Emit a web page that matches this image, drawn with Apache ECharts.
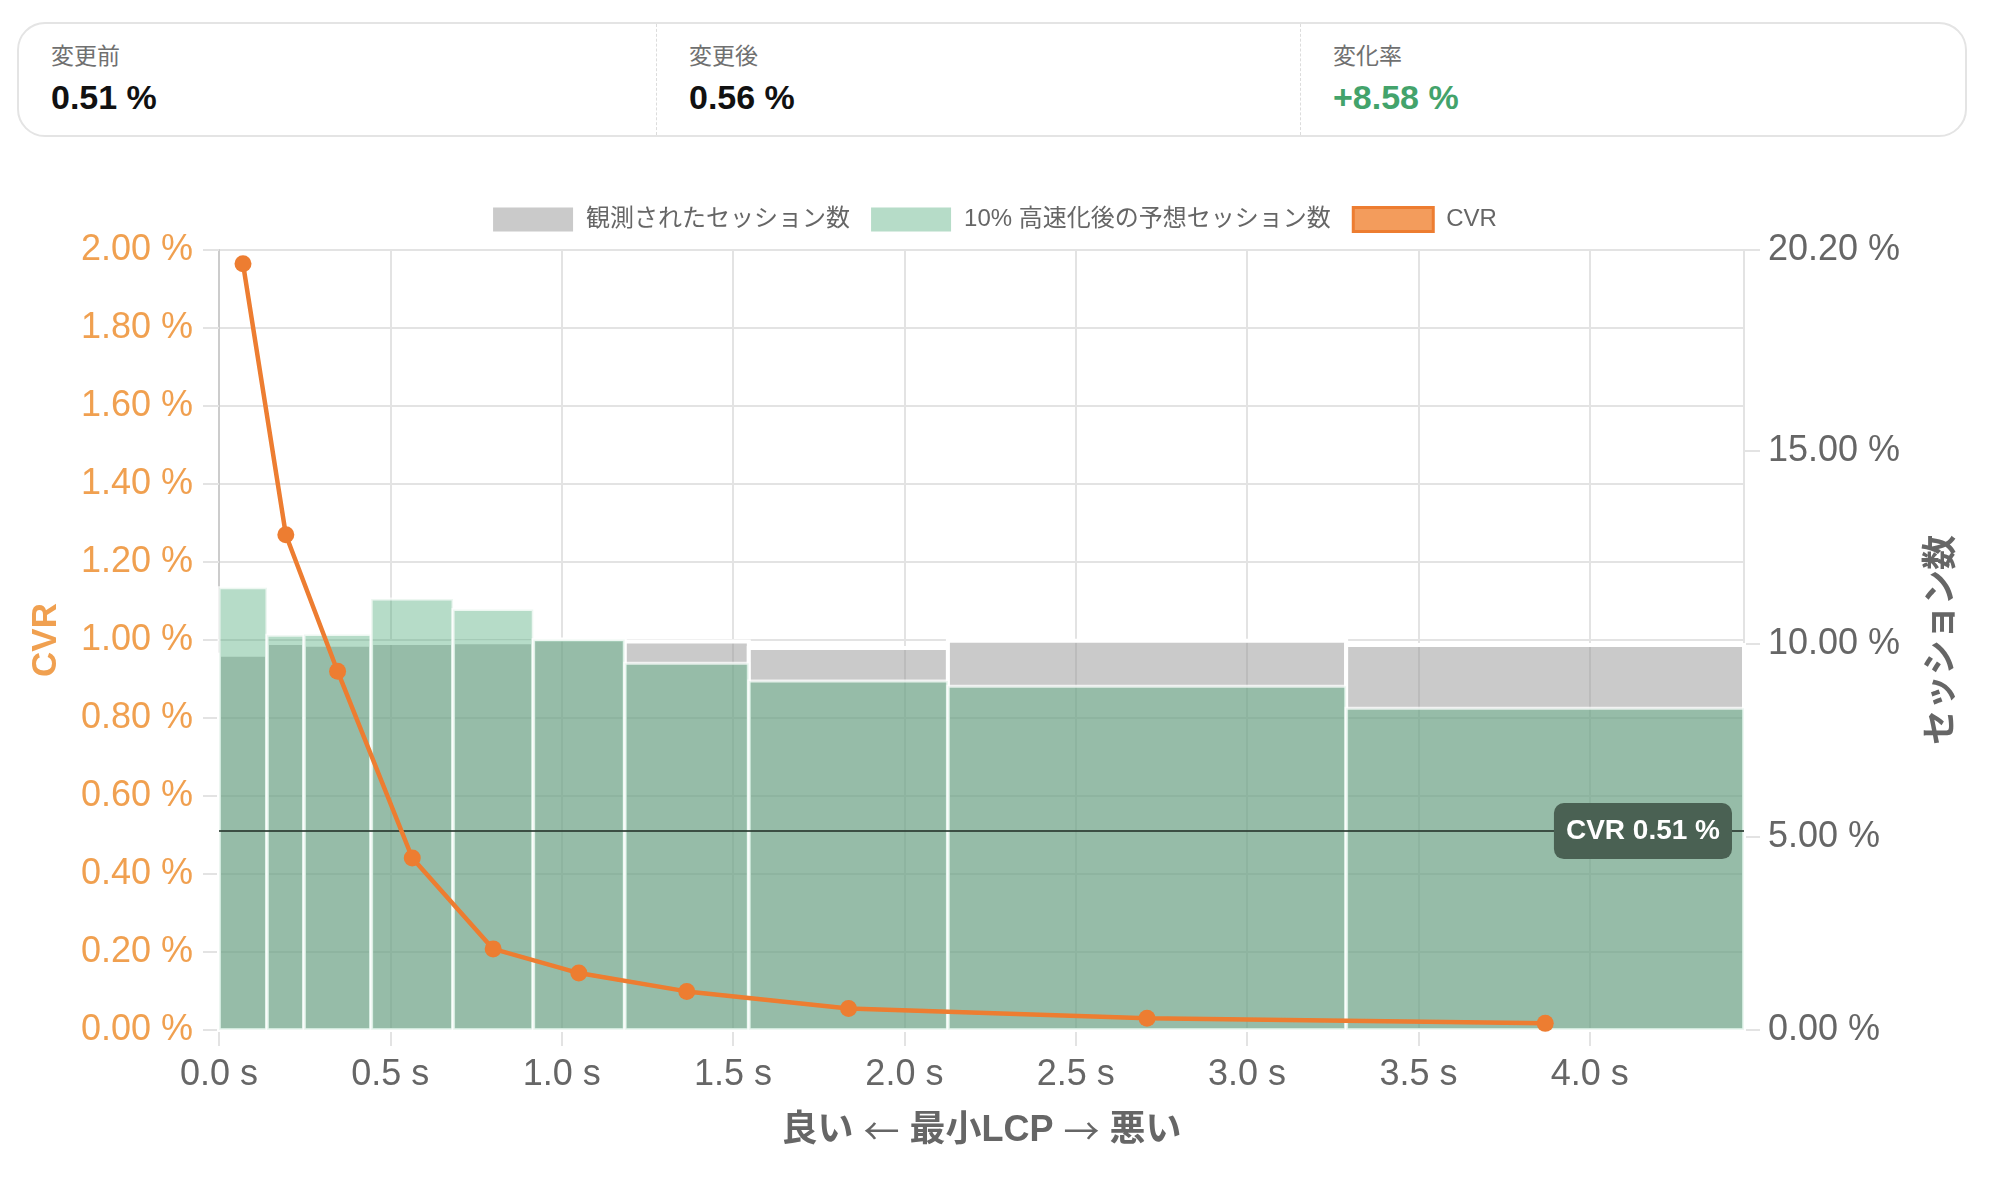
<!DOCTYPE html>
<html>
<head>
<meta charset="utf-8">
<script src="https://cdn.jsdelivr.net/npm/echarts@6/dist/echarts.min.js"></script>
<style>
  html, body { margin: 0; padding: 0; background: #fff; }
  body { width: 1990px; height: 1180px; position: relative; overflow: hidden;
         font-family: 'Liberation Sans', Arial, 'Noto Sans CJK JP', sans-serif; }
  #chart { position: absolute; left: 0; top: 0; width: 1990px; height: 1180px; }
  .card { position: absolute; left: 17px; top: 22px; width: 1950px; height: 115px;
          box-sizing: border-box; border: 2px solid #e4e4e4; border-radius: 28px; background: #fff; z-index: 2; }
  .div { position: absolute; top: 0; height: 111px; width: 0; border-left: 1.5px dashed #dcdcdc; }
  .lab { position: absolute; top: 21px; font-size: 23px; line-height: 1; color: #707070; white-space: nowrap; }
  .val { position: absolute; top: 56px; font-size: 34px; line-height: 1; font-weight: bold; color: #111; white-space: nowrap; }
</style>
</head>
<body>
<div id="chart"></div>
<div class="card" id="card"></div>
<script>
// ---- data ----
const summaryLabels = ['変更前', '変更後', '変化率'];
const summaryValues = ['0.51 %', '0.56 %', '+8.58 %'];

const binEdges = [0, 0.14, 0.248, 0.444, 0.683, 0.917, 1.184, 1.546, 2.127, 3.289, 4.45];
const observedShare = [9.72, 10.02, 9.98, 10.02, 10.04, 10.11, 10.06, 9.89, 10.08, 9.97];
const predictedShare = [11.45, 10.22, 10.24, 11.16, 10.89, 10.11, 9.50, 9.04, 8.90, 8.33];

const cvrX = [0.07, 0.195, 0.346, 0.564, 0.80, 1.05, 1.365, 1.837, 2.708, 3.87];
const cvrY = [1.965, 1.27, 0.92, 0.441, 0.208, 0.146, 0.099, 0.055, 0.030, 0.017];

const baselineCVR = 0.51;
const xTickValues = [0, 0.5, 1, 1.5, 2, 2.5, 3, 3.5, 4];
const rightTickValues = [0, 5, 10, 15, 20.2];

const seriesNames = ['観測されたセッション数', '10% 高速化後の予想セッション数', 'CVR'];
const xNameParts = ['良い', '←', '最小LCP', '→', '悪い'];

// ---- summary card ----
const card = document.getElementById('card');
const colX = [32, 670, 1314];
const divX = [637, 1281];
divX.forEach(x => { const d = document.createElement('div'); d.className = 'div'; d.style.left = x + 'px'; card.appendChild(d); });
summaryLabels.forEach((t, i) => {
  const l = document.createElement('div'); l.className = 'lab'; l.style.left = colX[i] + 'px'; l.textContent = t; card.appendChild(l);
  const v = document.createElement('div'); v.className = 'val'; v.style.left = colX[i] + 'px'; v.textContent = summaryValues[i];
  if (i === 2) v.style.color = '#43a36b';
  card.appendChild(v);
});

// ---- chart ----
const FONT = "'Liberation Sans', Arial, 'Noto Sans CJK JP', sans-serif";
const chart = echarts.init(document.getElementById('chart'), null, { renderer: 'canvas' });

function binRows(values) {
  return values.map((v, i) => [binEdges[i], binEdges[i + 1], v]);
}
function barRenderer(fill, stroke, lw) {
  return function (params, api) {
    const p0 = api.coord([api.value(0), api.value(2)]);
    const p1 = api.coord([api.value(1), 0]);
    return {
      type: 'rect',
      shape: { x: p0[0], y: p0[1], width: p1[0] - p0[0], height: p1[1] - p0[1] },
      style: { fill: fill, stroke: stroke, lineWidth: lw }
    };
  };
}

const gridLine = { show: true, lineStyle: { color: '#e3e3e3', width: 2 } };
const xName = xNameParts[0] + ' {ar|' + xNameParts[1] + '} ' + xNameParts[2] + ' {ar|' + xNameParts[3] + '} ' + xNameParts[4];

chart.setOption({
  animation: false,
  textStyle: { fontFamily: FONT },
  legend: {
    top: 201, left: 'center',
    itemWidth: 80, itemHeight: 24, itemGap: 21,
    icon: 'rect',
    textStyle: { fontSize: 24, color: '#666', fontFamily: FONT, padding: [0, 0, 0, 8] },
    data: [
      { name: seriesNames[0], itemStyle: { color: '#cacaca', borderWidth: 0 } },
      { name: seriesNames[1], itemStyle: { color: '#b6dcc8', borderWidth: 0 } },
      { name: seriesNames[2], itemStyle: { color: '#f39c5c', borderColor: '#ed7d31', borderWidth: 3 } }
    ]
  },
  grid: { left: 219, right: 246, top: 250, bottom: 150, containLabel: false },
  xAxis: {
    type: 'value', min: 0, max: 4.45, interval: 0.5,
    name: xName, nameLocation: 'middle', nameGap: 83,
    nameTextStyle: { fontSize: 36, fontWeight: 'bold', color: '#666', fontFamily: FONT,
      rich: { ar: { fontSize: 36, fontWeight: 'normal', color: '#666', fontFamily: "'Noto Sans CJK JP', sans-serif" } } },
    axisLine: { show: true, lineStyle: { color: '#cccccc', width: 2 } },
    axisTick: { show: true, length: 16, customValues: xTickValues, lineStyle: { color: '#e3e3e3', width: 2 } },
    axisLabel: { fontSize: 36, color: '#666', margin: 27, customValues: xTickValues,
                 formatter: v => v.toFixed(1) + ' s' },
    splitLine: gridLine
  },
  yAxis: [
    {
      type: 'value', min: 0, max: 2, interval: 0.2, position: 'left',
      name: 'CVR', nameLocation: 'middle', nameGap: 155,
      nameTextStyle: { fontSize: 35, fontWeight: 'bold', color: '#f0a050', fontFamily: FONT },
      axisLine: { show: true, lineStyle: { color: '#cccccc', width: 2 } },
      axisTick: { show: true, length: 16, lineStyle: { color: '#e3e3e3', width: 2 } },
      axisLabel: { fontSize: 36, color: '#f0a050', margin: 26, formatter: v => v.toFixed(2) + ' %' },
      splitLine: gridLine
    },
    {
      type: 'value', min: 0, max: 20.2, interval: 5, position: 'right',
      name: 'セッション数', nameLocation: 'middle', nameGap: 181,
      nameTextStyle: { fontSize: 35, fontWeight: 'bold', color: '#666', fontFamily: FONT },
      axisLine: { show: true, lineStyle: { color: '#e3e3e3', width: 2 } },
      axisTick: { show: true, length: 16, customValues: rightTickValues, lineStyle: { color: '#e3e3e3', width: 2 } },
      axisLabel: { fontSize: 36, color: '#666', margin: 24, customValues: rightTickValues,
                   formatter: v => v.toFixed(2) + ' %' },
      splitLine: { show: false }
    }
  ],
  series: [
    {
      name: seriesNames[0], type: 'custom', yAxisIndex: 1, z: 1,
      itemStyle: { color: '#cacaca' },
      encode: { x: [0, 1], y: 2 },
      renderItem: barRenderer('rgba(150,150,150,0.5)', '#ffffff', 4),
      data: binRows(observedShare)
    },
    {
      name: seriesNames[1], type: 'custom', yAxisIndex: 1, z: 2,
      itemStyle: { color: '#b6dcc8' },
      encode: { x: [0, 1], y: 2 },
      renderItem: barRenderer('rgba(72,167,117,0.4)', 'rgba(255,255,255,0.75)', 3),
      data: binRows(predictedShare)
    },
    {
      name: seriesNames[2], type: 'line', yAxisIndex: 0, z: 5,
      data: cvrX.map((x, i) => [x, cvrY[i]]),
      symbol: 'circle', symbolSize: 17,
      lineStyle: { color: '#ed7d31', width: 4.5 },
      itemStyle: { color: '#ed7d31' },
      markLine: {
        silent: true, symbol: 'none',
        lineStyle: { color: 'rgba(45,60,50,0.85)', width: 2, type: 'solid' },
        label: {
          show: true, position: 'insideEnd', distance: 12,
          formatter: 'CVR ' + baselineCVR.toFixed(2) + ' %',
          color: '#fff', fontWeight: 'bold', fontSize: 28, fontFamily: FONT,
          backgroundColor: '#4a6153', borderRadius: 10, padding: [14, 12]
        },
        data: [{ yAxis: baselineCVR }]
      }
    }
  ]
});
</script>
</body>
</html>
